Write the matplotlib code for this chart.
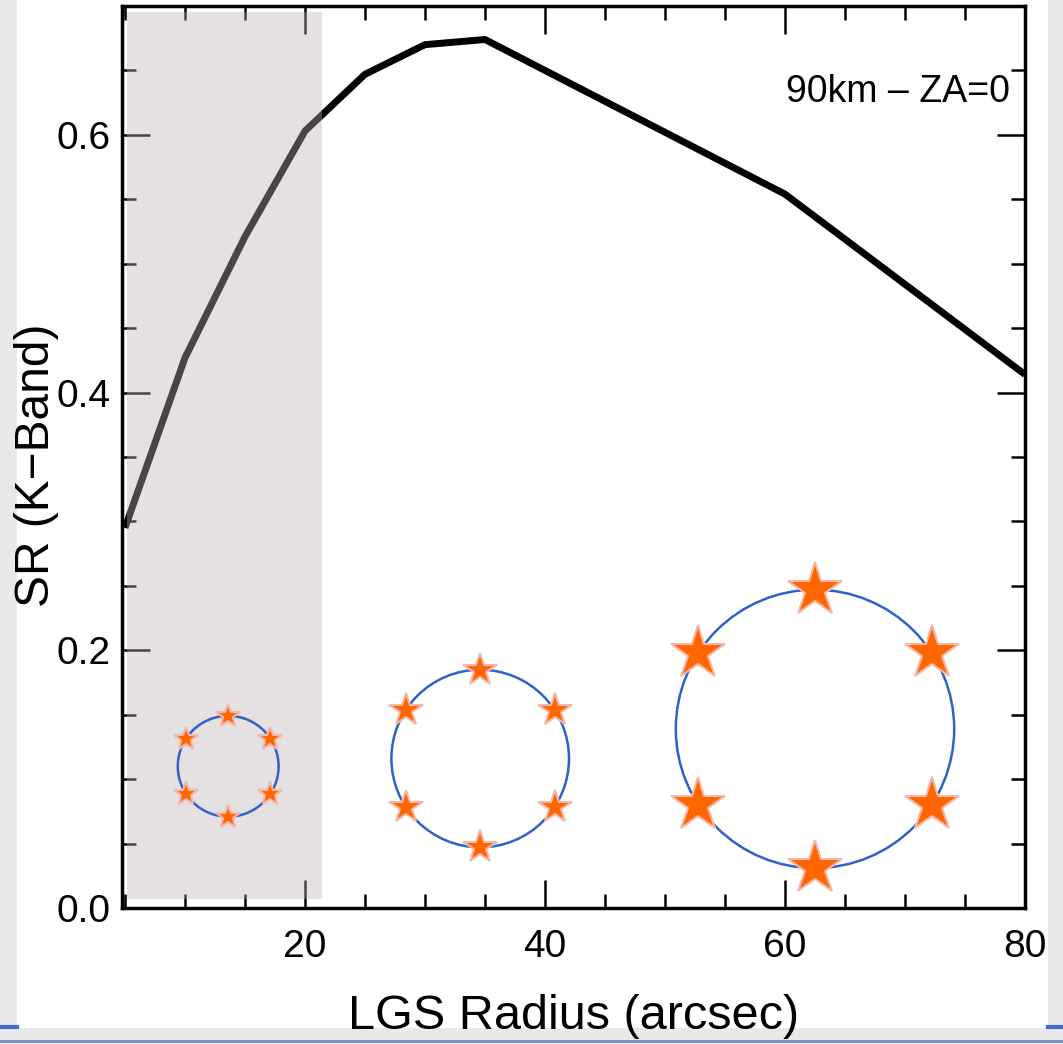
#
# SR (K-Band) versus LGS radius, with the three LGS ring sketches
#
import numpy as np
import matplotlib
matplotlib.use("Agg")
import matplotlib.pyplot as plt
from matplotlib.patches import Ellipse, Rectangle
from matplotlib.lines import Line2D

plt.rcParams['font.family'] = ['Liberation Sans', 'DejaVu Sans']

# curve
radius = [5, 10, 15, 20, 25, 30, 35, 60, 80]
sr = [0.295, 0.427, 0.521, 0.603, 0.647, 0.670, 0.674, 0.554, 0.414]

# shaded zone (arcsec)
shade_lo, shade_hi = 5.2, 21.4

# ring sketches: centre x, centre y, radius (x units), star size
ring_x = [13.6, 34.6, 62.5]
ring_y = [0.110, 0.116, 0.139]
ring_r = [4.2, 7.4, 11.6]
star_size = [18, 25, 41]
star_angles = [90, 33, -33, -90, -147, 147]

fig = plt.figure(figsize=(10.63, 10.44), dpi=100)
fig.patch.set_facecolor('#e9e9e9')
# white slide panel behind everything
fig.patches.append(Rectangle((17/1063, 16/1044), 1031/1063, 1 - 16/1044,
                             transform=fig.transFigure, facecolor='white',
                             edgecolor='none', zorder=-10))
fig.lines.append(Line2D([0, 1], [3/1044, 3/1044], transform=fig.transFigure,
                        color='#6f8fc0', lw=2, zorder=-9))
fig.lines.append(Line2D([0, 17/1063], [17/1044, 17/1044], transform=fig.transFigure,
                        color='#3a6fd0', lw=3, zorder=-9))
fig.lines.append(Line2D([1048/1063, 1], [17/1044, 17/1044], transform=fig.transFigure,
                        color='#3a6fd0', lw=3, zorder=-9))

ax = fig.add_axes([122/1063, 1 - 908/1044, 903/1063, 902/1044])
ax.set_facecolor('none')
ax.plot(radius, sr, color='black', lw=5, zorder=2, solid_capstyle='butt')
ax.axvspan(shade_lo, shade_hi, ymin=0.01, ymax=0.993,
           color=(0.745, 0.69, 0.70), alpha=0.39, lw=0, zorder=3)

ax.set_xlim(4.75, 80)
ax.set_ylim(0, 0.70)
ax.set_xticks([20, 40, 60, 80])
ax.set_xticks(np.arange(5, 80, 5), minor=True)
ax.set_yticks([0.0, 0.2, 0.4, 0.6])
ax.set_yticks(np.arange(0, 0.70, 0.05), minor=True)
ax.yaxis.set_major_formatter(matplotlib.ticker.FormatStrFormatter('%.1f'))
ax.tick_params(which='both', direction='in', top=True, right=True, width=1.8,
               labelsize=28)
ax.tick_params(which='major', length=20)
ax.tick_params(which='minor', length=10)
ax.tick_params(axis='x', which='major', pad=15)
ax.tick_params(axis='y', which='major', pad=8)
for s in ax.spines.values():
    s.set_linewidth(2.5)

ax.set_ylabel('SR (K\u2212Band)', fontsize=34.5)
ax.yaxis.set_label_coords(-0.070, 0.491)
ax.set_xlabel('LGS Radius (arcsec)', fontsize=35)
ax.xaxis.set_label_coords(0.5, -0.095)
ax.text(0.983, 0.905, '90km \u2013 ZA=0', transform=ax.transAxes,
        ha='right', va='center', fontsize=27)

# keep rings round on screen
p0 = ax.transData.transform((0, 0))
p1 = ax.transData.transform((1, 1))
aspect = (p1[0] - p0[0]) / (p1[1] - p0[1])

for cx, cy, r, ms in zip(ring_x, ring_y, ring_r, star_size):
    ax.add_patch(Ellipse((cx, cy), 2*r, 2*r*aspect, fill=False,
                         edgecolor='#2f62c8', lw=1.8, zorder=4))
    a = np.radians(star_angles)
    sx = cx + r*np.cos(a)
    sy = cy + r*aspect*np.sin(a)
    ax.plot(sx, sy, ls='none', marker='*', ms=ms, color='#ff6600',
            mec='#f4b8aa', mew=1.5, zorder=5)

fig.savefig('out.png', dpi=100, facecolor=fig.get_facecolor())
